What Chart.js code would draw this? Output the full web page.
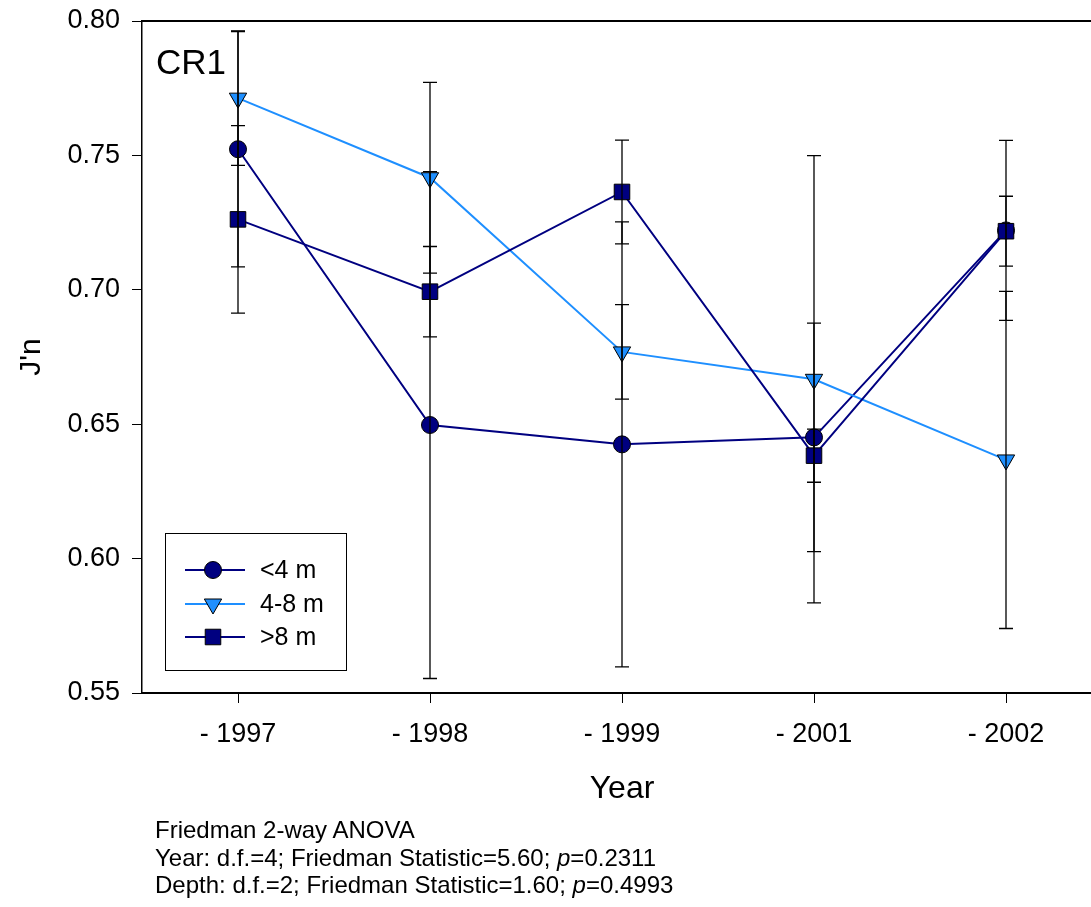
<!DOCTYPE html>
<html>
<head>
<meta charset="utf-8">
<script src="https://cdn.jsdelivr.net/npm/chart.js@4.4.1/dist/chart.umd.min.js"></script>
<style>
  html, body { margin: 0; padding: 0; background: #fff; overflow: hidden; width: 1091px; height: 907px; }
  #wrap { position: absolute; left: 0; top: 0; width: 1114px; height: 820px; }
  #note { position: absolute; left: 155px; top: 816px; font-family: "Liberation Sans", Arial, sans-serif; font-size: 24px; line-height: 27.5px; color: #000; white-space: nowrap; }
</style>
</head>
<body>
<div id="wrap"><canvas id="grafico" width="1114" height="820"></canvas></div>
<div id="note">
  Friedman 2-way ANOVA<br>
  Year: d.f.=4; Friedman Statistic=5.60; <i>p</i>=0.2311<br>
  Depth: d.f.=2; Friedman Statistic=1.60; <i>p</i>=0.4993
</div>
<script>
// datos
let years = ['- 1997', '- 1998', '- 1999', '- 2001', '- 2002']
let menos4 = [0.7523, 0.6497, 0.6425, 0.6451, 0.7221]
let menos4Err = [0.0438, 0.0943, 0.0828, 0.0425, 0.0335]
let entre4y8 = [0.7713, 0.7417, 0.6769, 0.6667, 0.6367]
let entre4y8Err = [0.0250, 0.0355, 0.0176, 0.0832, 0.0627]
let mas8 = [0.7262, 0.6993, 0.7364, 0.6383, 0.7218]
let mas8Err = [0.0349, 0.0168, 0.0193, 0.0099, 0.0130]
let yTicks = [0.55, 0.60, 0.65, 0.70, 0.75, 0.80]

let navy = '#000080'
let celeste = '#1E8FFF'
let errores = [menos4Err, entre4y8Err, mas8Err]

Chart.defaults.font.family = '"Liberation Sans", Arial, sans-serif'
Chart.defaults.color = '#000'

// barras de error con tope
const barrasError = {
    id: 'barrasError',
    afterDatasetsDraw(chart) {
        const ctx = chart.ctx
        const y = chart.scales.y
        ctx.save()
        ctx.strokeStyle = '#000'
        ctx.lineWidth = 1.3
        chart.data.datasets.forEach((ds, k) => {
            const meta = chart.getDatasetMeta(k)
            ds.data.forEach((v, j) => {
                const px = meta.data[j].x
                const y1 = y.getPixelForValue(v + errores[k][j])
                const y2 = y.getPixelForValue(v - errores[k][j])
                ctx.beginPath()
                ctx.moveTo(px, y1); ctx.lineTo(px, y2)
                ctx.moveTo(px - 7, y1); ctx.lineTo(px + 7, y1)
                ctx.moveTo(px - 7, y2); ctx.lineTo(px + 7, y2)
                ctx.stroke()
            })
        })
        ctx.restore()
    }
}

// linea de arriba, etiqueta CR1 y leyenda
const extras = {
    id: 'extras',
    afterDraw(chart) {
        const ctx = chart.ctx
        const area = chart.chartArea
        ctx.save()
        ctx.strokeStyle = '#000'
        ctx.lineWidth = 2
        ctx.beginPath()
        ctx.moveTo(area.left, area.top)
        ctx.lineTo(chart.width, area.top)
        ctx.stroke()

        ctx.fillStyle = '#000'
        ctx.font = '35px "Liberation Sans", Arial, sans-serif'
        ctx.textBaseline = 'middle'
        ctx.textAlign = 'left'
        ctx.fillText('CR1', 156, 64)

        ctx.lineWidth = 1
        ctx.strokeRect(165.5, 533.5, 181, 137)
        const filas = [570, 604, 637]
        ctx.font = '25px "Liberation Sans", Arial, sans-serif'
        chart.data.datasets.forEach((ds, k) => {
            const fy = filas[k]
            ctx.strokeStyle = ds.borderColor
            ctx.lineWidth = 2
            ctx.beginPath()
            ctx.moveTo(185, fy); ctx.lineTo(245, fy)
            ctx.stroke()
            ctx.fillStyle = ds.pointBackgroundColor
            ctx.strokeStyle = '#000'
            ctx.lineWidth = 1
            Chart.helpers.drawPoint(ctx, {
                pointStyle: ds.pointStyle,
                rotation: ds.pointRotation || 0,
                radius: ds.pointRadius,
                borderWidth: 1
            }, 213, fy)
            ctx.fillStyle = '#000'
            ctx.fillText(ds.label, 260, fy + 1)
        })
        ctx.restore()
    }
}

const config = {
    type: 'line',
    data: {
        labels: years,
        datasets: [{
            label: '<4 m',
            data: menos4,
            borderColor: navy,
            borderWidth: 2,
            pointStyle: 'circle',
            pointRadius: 8.5,
            pointBackgroundColor: navy,
            pointBorderColor: '#000',
            pointBorderWidth: 1,
            order: 3
        },
        {
            label: '4-8 m',
            data: entre4y8,
            borderColor: celeste,
            borderWidth: 2,
            pointStyle: 'triangle',
            pointRotation: 180,
            pointRadius: 10,
            pointBackgroundColor: celeste,
            pointBorderColor: '#000',
            pointBorderWidth: 1,
            order: 2
        },
        {
            label: '>8 m',
            data: mas8,
            borderColor: navy,
            borderWidth: 2,
            pointStyle: 'rect',
            pointRadius: 11,
            pointBackgroundColor: navy,
            pointBorderColor: '#000',
            pointBorderWidth: 1,
            order: 1
        }]
    },
    options: {
        responsive: false,
        animation: false,
        layout: { padding: { left: 0, right: 2, top: 21, bottom: 12 } },
        plugins: {
            legend: { display: false },
            tooltip: { enabled: false }
        },
        scales: {
            x: {
                offset: true,
                grid: { drawOnChartArea: false, offset: false, tickLength: 10, color: '#000', lineWidth: 1 },
                border: { color: '#000', width: 2 },
                ticks: { font: { size: 27 }, padding: 15, maxRotation: 0 },
                title: { display: true, text: 'Year', font: { size: 32 }, padding: 0 },
                afterFit(scale) { scale.height = 115 }
            },
            y: {
                min: 0.55,
                max: 0.80,
                afterBuildTicks(scale) { scale.ticks = yTicks.map(v => ({ value: v })) },
                grid: { drawOnChartArea: false, tickLength: 10, color: '#000', lineWidth: 1 },
                border: { color: '#000', width: 1.5 },
                ticks: { font: { size: 27 }, padding: 12, callback: v => v.toFixed(2) },
                title: { display: true, text: "J'n", font: { size: 30 }, padding: { top: 14, bottom: 0 } },
                afterFit(scale) {
                    scale.width = 142
                    scale.paddingTop = 0
                    scale.paddingBottom = 0
                }
            }
        }
    },
    plugins: [barrasError, extras]
}

const myChart = new Chart(document.getElementById('grafico'), config)
</script>
</body>
</html>
